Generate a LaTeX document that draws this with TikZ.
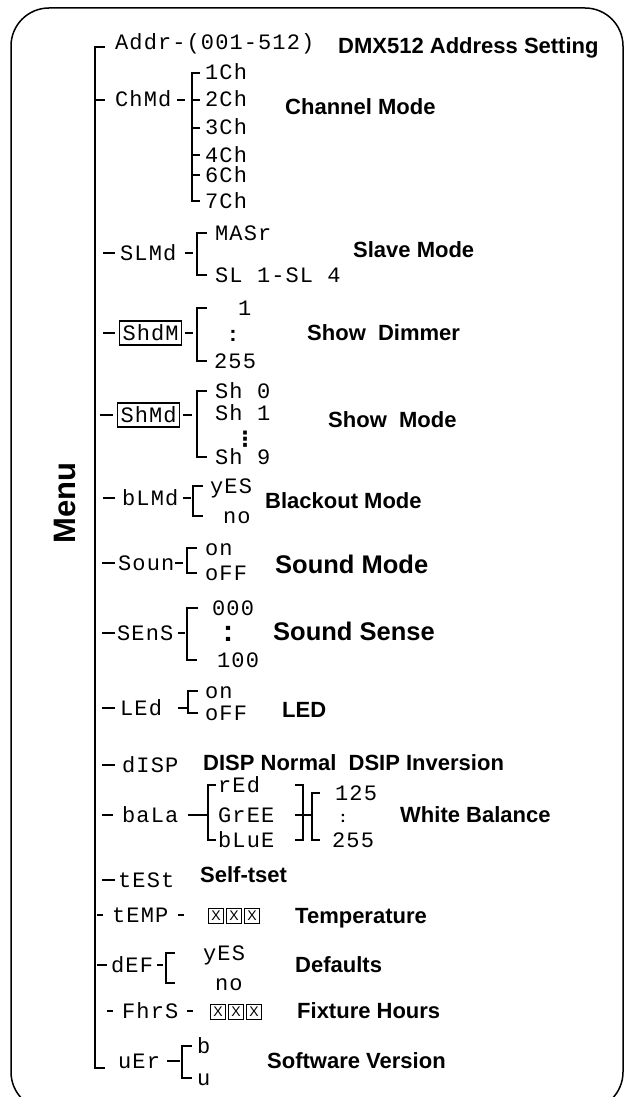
\documentclass[tikz,border=0pt]{standalone}
\usepackage{fontspec}
\setmainfont{Liberation Sans}
\newfontfamily\lcdfont{Liberation Mono}[LetterSpace=5]
\newfontfamily\dvfont{DejaVu Sans}
\tikzset{
  lcd/.style={font=\lcdfont\fontsize{22}{22}\selectfont, inner sep=0pt, text height=14pt, text depth=0pt, anchor=base west},
  lcdbox/.style={font=\lcdfont\fontsize{22}{22}\selectfont, draw, line width=1.1pt, inner xsep=3pt, inner ysep=5pt, text height=14pt, text depth=0pt, anchor=west},
  lab/.style={font=\bfseries\fontsize{22}{22}\selectfont, inner sep=0pt, anchor=base west},
  labbig/.style={font=\bfseries\fontsize{25.5}{26}\selectfont, inner sep=0pt, anchor=base west},
  seg/.style={line width=1.6pt},
  brk/.style={line width=1.5pt},
  trunkline/.style={line width=2pt},
  xbox/.style={draw, line width=1pt, minimum width=15pt, minimum height=15pt, inner sep=0pt, font=\fontsize{14}{14}\selectfont},
  dotsn/.style={inner sep=0pt, anchor=base},
}
\begin{document}
\begin{tikzpicture}[x=1pt,y=-1pt]
\useasboundingbox (0,0) rectangle (625,1097);
% frame
\draw[line width=1.5pt, rounded corners=38pt] (11,8) rectangle (623,1110);
% Menu
\node[font=\bfseries\fontsize{31}{31}\selectfont, rotate=90, inner sep=0pt] (menu) at (65,503) {Menu};
% trunk
\coordinate (trunk) at (95,0);
\coordinate (ttop) at (95,47);
\coordinate (tbot) at (95,1068);
\draw[trunkline] (ttop) ++(10,0) -- (ttop) -- (tbot) -- ++(10,0);

% ---- main items
\node[lcd] (m1) at (115,50) {Addr-(001-512)};
\node[lcd] (m2) at (115,107) {ChMd};
\node[lcd] (m3) at (120,260) {SLMd};
\node[lcdbox] (m4) at (119,333) {ShdM};
\node[lcdbox] (m5) at (117,415) {ShMd};
\node[lcd] (m6) at (122,505) {bLMd};
\node[lcd] (m7) at (118,570) {Soun};
\node[lcd] (m8) at (117,640) {SEnS};
\node[lcd] (m9) at (120,715) {LEd};
\node[lcd] (m10) at (122,772) {dISP};
\node[lcd] (m11) at (122,822) {baLa};
\node[lcd] (m12) at (118,887) {tESt};
\node[lcd] (m13) at (112,922) {tEMP};
\node[lcd] (m14) at (111,972) {dEF};
\node[lcd] (m15) at (122,1018) {FhrS};
\node[lcd] (m16) at (118,1068) {uEr};

% ---- leading connectors
\draw[trunkline] (m2.west -| trunk) -- ++(10,0);
\draw[seg] (m3.west) ++(-5,0) -- ++(-12,0);
\draw[seg] (m4.west) ++(-4,0) -- ++(-12,0);
\draw[seg] (m5.west) ++(-4,0) -- ++(-13,0);
\draw[seg] (m6.west) ++(-7,0) -- ++(-12,0);
\draw[seg] (m7.west) ++(-3,0) -- ++(-13,0);
\draw[seg] (m8.west) ++(-2,0) -- ++(-13,0);
\draw[seg] (m9.west) ++(-5,0) -- ++(-13,0);
\draw[seg] (m10.west) ++(-7,0) -- ++(-13,0);
\draw[seg] (m11.west) ++(-9,0) -- ++(-11,0);
\draw[seg] (m12.west) ++(-3,0) -- ++(-13,0);
\draw[seg] (m13.west) ++(-9,0) -- ++(-6,0);
\draw[seg] (m14.west) ++(-4,0) -- ++(-10,0);
\draw[seg] (m15.west) ++(-9,0) -- ++(-6,0);

% ---- bracket columns
\coordinate (b2) at (192,0);
\coordinate (b3) at (197,0);
\coordinate (b6) at (193,0);
\coordinate (b7) at (187,0);
\coordinate (b9) at (188,0);
\coordinate (b11) at (208,0);
\coordinate (r11) at (303,0);
\coordinate (s11) at (312,0);
\coordinate (b14) at (166,0);
\coordinate (b16) at (182,0);

% ---- values
% ChMd
\node[lcd] (c1) at (205,80) {1Ch};
\node[lcd] (c2) at (205,107) {2Ch};
\node[lcd] (c3) at (205,135) {3Ch};
\node[lcd] (c4) at (205,162) {4Ch};
\node[lcd] (c5) at (205,182) {6Ch};
\node[lcd] (c6) at (205,208) {7Ch};
\draw[seg] (m2.east -| b2) ++(-7,0) -- ++(-8,0);
\draw[brk] (c1.west -| b2) ++(8,0) -- (c1.west -| b2) -- (c6.west -| b2) -- ++(8,0);
\foreach \v in {c2,c3,c4,c5} \draw[brk] (\v.west -| b2) -- ++(8,0);

% SLMd
\node[lcd] (s1) at (215,240) {MASr};
\node[lcd] (s2) at (215,282) {SL 1-SL 4};
\draw[seg] (m3.east -| b3) ++(-4,0) -- ++(-8,0);
\draw[brk] (s1.west -| b3) ++(10,0) -- (s1.west -| b3) -- (s2.west -| b3) -- ++(10,0);

% ShdM
\node[lcd] (h1) at (238,315) {1};
\node[dotsn, font=\bfseries\fontsize{22}{22}\selectfont] (h2) at (233,341) {:};
\node[lcd] (h3) at (214,368) {255};
\draw[seg] (m4.east -| b3) ++(-4,0) -- ++(-8,0);
\draw[brk] (h1.west -| b3) ++(10,0) -- (h1.west -| b3) -- (h3.west -| b3) -- ++(10,0);

% ShMd
\node[lcd] (w1) at (215,398) {Sh 0};
\node[lcd] (w2) at (215,420) {Sh 1};
\node[dotsn, font=\dvfont\bfseries\fontsize{21}{21}\selectfont] (w3) at (245,446) {⋮};
\node[lcd] (w4) at (215,464) {Sh 9};
\draw[seg] (m5.east -| b3) ++(-5,0) -- ++(-9,0);
\draw[brk] (w1.west -| b3) ++(10,0) -- (w1.west -| b3) -- (w4.west -| b3) -- ++(10,0);

% bLMd
\node[lcd] (k1) at (210,493) {yES};
\node[lcd] (k2) at (223,523) {no};
\draw[seg] (m6.east -| b6) ++(-2,0) -- ++(-8,0);
\draw[brk] (k1.west -| b6) ++(10,0) -- (k1.west -| b6) -- (k2.west -| b6) -- ++(10,0);

% Soun
\node[lcd] (o1) at (205,555) {on};
\node[lcd] (o2) at (205,580) {oFF};
\draw[seg] (m7.east -| b7) ++(-4,0) -- ++(-8,0);
\draw[brk] (o1.west -| b7) ++(10,0) -- (o1.west -| b7) -- (o2.west -| b7) -- ++(10,0);

% SEnS
\node[lcd] (e1) at (212,615) {000};
\node[dotsn, font=\bfseries\fontsize{30}{30}\selectfont] (e2) at (228,641) {:};
\node[lcd] (e3) at (217,667) {100};
\draw[seg] (m8.east -| b7) ++(-2,0) -- ++(-7,0);
\draw[brk] (e1.west -| b7) ++(11,0) -- (e1.west -| b7) -- (e3.west -| b7) -- ++(10,0);

% LEd
\node[lcd] (l1) at (205,698) {on};
\node[lcd] (l2) at (205,720) {oFF};
\draw[seg] (m9.east -| b9) ++(-1,0) -- ++(-9,0);
\draw[brk] (l1.west -| b9) ++(10,0) -- (l1.west -| b9) -- (l2.west -| b9) -- ++(10,0);

% baLa
\node[lcd] (g1) at (218,792) {rEd};
\node[lcd] (g2) at (218,822) {GrEE};
\node[lcd] (g3) at (218,847) {bLuE};
\node[lcd] (g4) at (335,800) {125};
\node[dotsn, font=\bfseries\fontsize{16}{16}\selectfont] (g5) at (343,822) {:};
\node[lcd] (g6) at (332,847) {255};
\draw[seg] (m11.east -| b11) -- ++(-20,0);
\draw[brk] (g1.west -| b11) ++(8,0) -- (g1.west -| b11) -- (g3.west -| b11) -- ++(8,0);
\draw[brk] (g1.west -| r11) ++(-8,0) -- (g1.west -| r11) -- (g3.west -| r11) -- ++(-8,0);
\draw[brk] (g2.west -| r11) ++(-8,0) -- (g2.west -| s11);
\draw[brk] (g4.west -| s11) ++(8,0) -- (g4.west -| s11) -- (g6.west -| s11) -- ++(8,0);

% tEMP
\node[xbox] (x1) at (216,915.5) {X};
\node[xbox] (x2) at (234,915.5) {X};
\node[xbox] (x3) at (252,915.5) {X};
\draw[seg] (m13.east -| x1.west) ++(-30,0) -- ++(6,0);

% dEF
\node[lcd] (f1) at (203,960) {yES};
\node[lcd] (f2) at (215,990) {no};
\draw[seg] (m14.east) ++(4,0) -- ++(6,0);
\draw[brk] (f1.west -| b14) ++(9,0) -- (f1.west -| b14) -- (f2.west -| b14) -- ++(9,0);

% FhrS
\node[xbox] (y1) at (218,1012) {X};
\node[xbox] (y2) at (236,1012) {X};
\node[xbox] (y3) at (254,1012) {X};
\draw[seg] (m15.east -| y1.west) ++(-17,0) -- ++(-6,0);

% uEr
\node[lcd] (u1) at (197,1053) {b};
\node[lcd] (u2) at (197,1085) {u};
\draw[seg] (m16.east -| b16) ++(-2,0) -- ++(-13,0);
\draw[brk] (u1.west -| b16) ++(10,0) -- (u1.west -| b16) -- (u2.west -| b16) -- ++(10,0);

% ---- labels
\node[lab] (L1) at (338,54) {DMX512 Address Setting};
\node[lab] (L2) at (285,115) {Channel Mode};
\node[lab] (L3) at (353,257) {Slave Mode};
\node[lab] (L4) at (307,340) {Show\ \ Dimmer};
\node[lab] (L5) at (328,427) {Show\ \ Mode};
\node[lab] (L6) at (265,508) {Blackout Mode};
\node[labbig] (L7) at (275,573) {Sound Mode};
\node[labbig] (L8) at (273,640) {Sound Sense};
\node[lab] (L9) at (282,717) {LED};
\node[lab] (L10) at (203,770) {DISP Normal\ \ DSIP Inversion};
\node[lab] (L11) at (400,822) {White Balance};
\node[lab] (L12) at (200,882) {Self-tset};
\node[lab] (L13) at (295,923) {Temperature};
\node[lab] (L14) at (295,972) {Defaults};
\node[lab] (L15) at (297,1018) {Fixture Hours};
\node[lab] (L16) at (267,1068) {Software Version};
\end{tikzpicture}
\end{document}
